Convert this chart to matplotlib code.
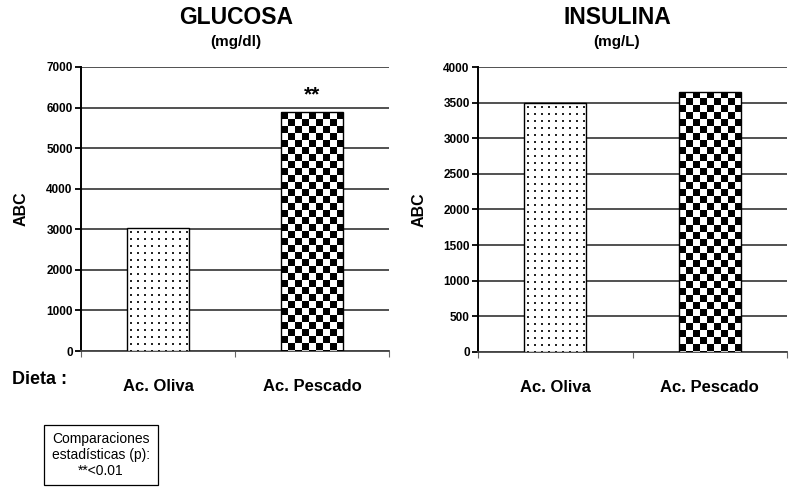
import numpy as np
import matplotlib
matplotlib.use("Agg")
import matplotlib.pyplot as plt

# data
categorias = ["Ac. Oliva", "Ac. Pescado"]
glucosa = [3020, 5880]
insulina = [3490, 3650]
glucosa_ticks = [0, 1000, 2000, 3000, 4000, 5000, 6000, 7000]
insulina_ticks = [0, 500, 1000, 1500, 2000, 2500, 3000, 3500, 4000]

plt.rcParams['font.family'] = ['Liberation Sans', 'DejaVu Sans']

fig = plt.figure(figsize=(7.89, 4.87), dpi=100)
ax1 = fig.add_axes([81 / 789, 1 - 351 / 487, 308 / 789, 284 / 487])
ax2 = fig.add_axes([478 / 789, 1 - 352 / 487, 309 / 789, 285 / 487])


def pattern_fill(ax, bar, kind):
    """paint a pixel pattern (dots or checkerboard) clipped to the bar"""
    x0, y0 = bar.get_x(), bar.get_y()
    x1, y1 = x0 + bar.get_width(), y0 + bar.get_height()
    p0 = ax.transData.transform((x0, y0))
    p1 = ax.transData.transform((x1, y1))
    w = int(round(abs(p1[0] - p0[0])))
    h = int(round(abs(p1[1] - p0[1])))
    yy, xx = np.indices((h, w))
    if kind == 'check':
        img = ((yy // 7 + xx // 7) % 2).astype(float)
    else:
        img = np.ones((h, w))
        dot = ((xx - 3) % 7 < 2) & ((yy - 3) % 7 < 2)
        img[dot] = 0.15
    im = ax.imshow(img, cmap='gray', vmin=0, vmax=1,
                   extent=(x0, x1, y0, y1),
                   interpolation='nearest', aspect='auto', zorder=3)
    im.set_clip_path(bar)


def draw_panel(ax, values, ticks, label_pad):
    x = np.arange(len(values))
    ymax = ticks[-1]
    ax.set_xlim(-0.5, len(values) - 0.5)
    ax.set_ylim(0, ymax)
    bars = ax.bar(x, values, width=0.4, facecolor='white',
                  edgecolor='none', zorder=3)
    ax.set_yticks(ticks)
    ax.set_yticklabels([str(t) for t in ticks], fontsize=8.5,
                       fontweight='bold')
    ax.yaxis.grid(True, color='#333333', linewidth=1.2, zorder=1)
    ax.set_axisbelow(True)
    ax.set_xticks(x)
    ax.set_xticklabels(categorias, fontsize=12, fontweight='bold')
    ax.set_xticks([-0.5, 0.5, len(values) - 0.5], minor=True)
    ax.tick_params(axis='x', which='major', length=0, pad=20)
    ax.tick_params(axis='x', which='minor', length=4, width=0.8,
                   color='#666666')
    ax.tick_params(axis='y', length=4, width=1.3, pad=2)
    for side in ['top', 'right']:
        ax.spines[side].set_visible(False)
    ax.spines['left'].set_linewidth(1.4)
    ax.spines['bottom'].set_color('#444444')
    ax.spines['bottom'].set_linewidth(1.3)
    ax.set_ylabel("ABC", fontsize=11.5, fontweight='bold',
                  labelpad=label_pad)
    pattern_fill(ax, bars[0], 'dots')
    pattern_fill(ax, bars[1], 'check')
    # outline on top of the patterns
    ax.bar(x, values, width=0.4, facecolor='none', edgecolor='black',
           linewidth=1.0, zorder=4)
    ax.set_xlim(-0.5, len(values) - 0.5)
    ax.set_ylim(0, ymax)
    return bars


draw_panel(ax1, glucosa, glucosa_ticks, 13)
draw_panel(ax2, insulina, insulina_ticks, 12)

ax1.annotate("**", xy=(1, glucosa[1]), xytext=(0, 6),
             textcoords='offset points', ha='center', va='bottom',
             fontsize=15, fontweight='bold')

fig.text(236 / 789, 1 - 17 / 487, "GLUCOSA", ha='center', va='center',
         fontsize=16.5, fontweight='bold')
fig.text(236 / 789, 1 - 42 / 487, "(mg/dl)", ha='center', va='center',
         fontsize=11, fontweight='bold')
fig.text(617 / 789, 1 - 17 / 487, "INSULINA", ha='center', va='center',
         fontsize=16.5, fontweight='bold')
fig.text(617 / 789, 1 - 42 / 487, "(mg/L)", ha='center', va='center',
         fontsize=11, fontweight='bold')
fig.text(12 / 789, 1 - 380 / 487, "Dieta :", ha='left', va='center',
         fontsize=13, fontweight='bold')

fig.text(101 / 789, 1 - 455 / 487,
         "Comparaciones\nestadísticas (p):\n**<0.01",
         ha='center', va='center', fontsize=10, linespacing=1.15,
         bbox=dict(boxstyle='square,pad=0.55', facecolor='white',
                   edgecolor='black', linewidth=0.9))

fig.savefig("out.png", dpi=100)
